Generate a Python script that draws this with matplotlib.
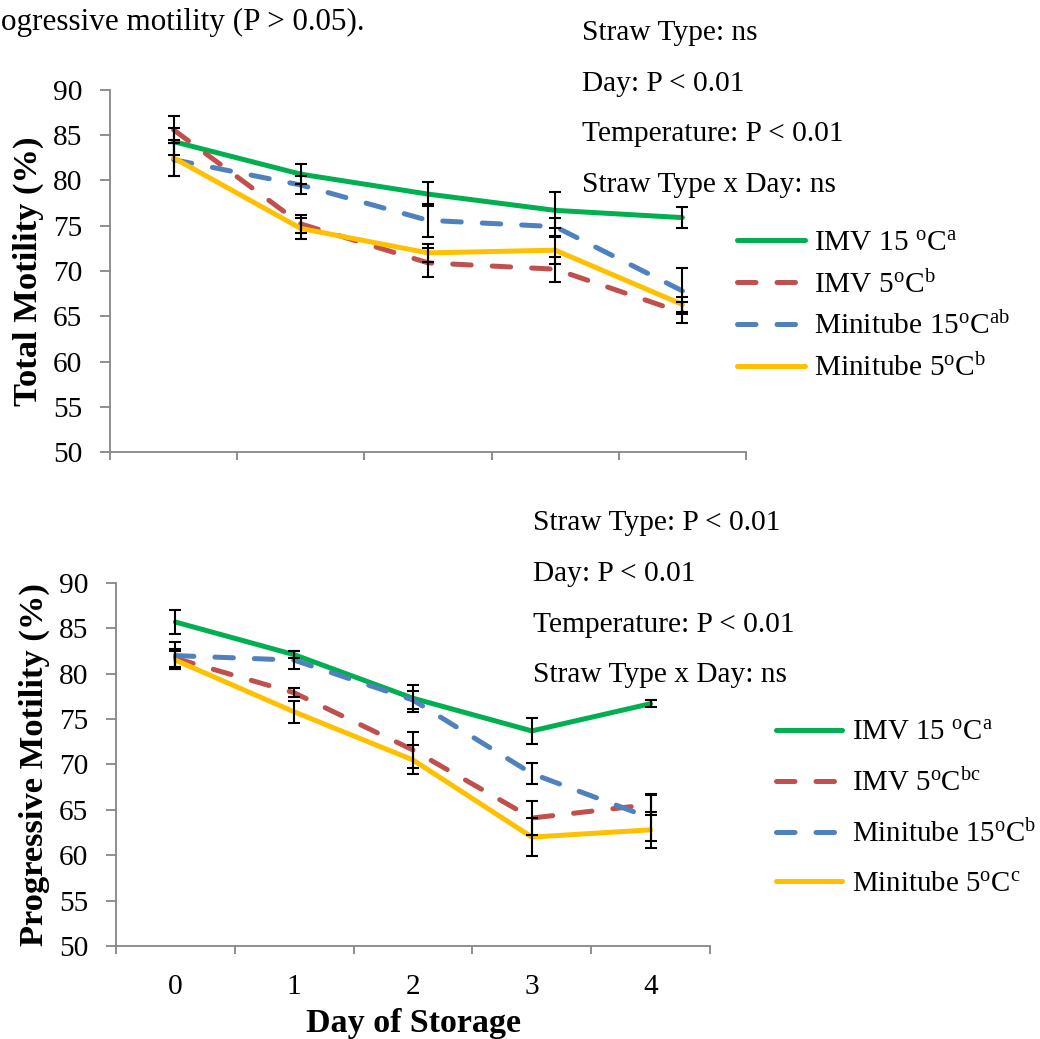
import numpy as np
import matplotlib
matplotlib.use("Agg")
import matplotlib.pyplot as plt

plt.rcParams['font.family'] = ['Liberation Serif', 'DejaVu Serif']
plt.rcParams['mathtext.fontset'] = 'custom'
plt.rcParams['mathtext.rm'] = 'Liberation Serif'
plt.rcParams['mathtext.it'] = 'Liberation Serif'

days = [0, 1, 2, 3, 4]

# Total motility (%)
tot_imv15 = [84.3, 80.7, 78.5, 76.7, 75.9]
tot_imv5 = [85.6, 75.2, 70.9, 70.2, 65.4]
tot_mini15 = [82.3, 79.5, 75.6, 74.9, 67.8]
tot_mini5 = [82.5, 74.7, 72.0, 72.3, 66.3]
tot_imv15_err = [1.5, 1.1, 1.3, 2.0, 1.2]
tot_imv5_err = [1.5, 1.0, 1.6, 1.4, 1.2]
tot_mini15_err = [1.8, 1.0, 1.8, 1.0, 2.5]
tot_mini5_err = [2.0, 1.2, 1.0, 1.5, 0.8]

# Progressive motility (%)
prog_imv15 = [85.7, 82.1, 77.3, 73.7, 76.7]
prog_imv5 = [81.7, 77.9, 71.6, 64.1, 65.6]
prog_mini15 = [82.0, 81.5, 77.1, 69.0, 64.1]
prog_mini5 = [81.5, 75.8, 70.5, 62.0, 62.8]
prog_imv15_err = [1.3, 0.4, 1.5, 1.4, 0.4]
prog_imv5_err = [1.0, 0.5, 2.0, 1.9, 1.2]
prog_mini15_err = [1.5, 1.0, 1.0, 1.2, 2.5]
prog_mini5_err = [1.0, 1.2, 1.6, 2.1, 2.0]

top_labels = ["IMV 15 $^{\\mathrm{o}}$C$^{\\mathrm{a}}$", "IMV 5$^{\\mathrm{o}}$C$^{\\mathrm{b}}$",
              "Minitube 15$^{\\mathrm{o}}$C$^{\\mathrm{ab}}$", "Minitube 5$^{\\mathrm{o}}$C$^{\\mathrm{b}}$"]
bot_labels = ["IMV 15 $^{\\mathrm{o}}$C$^{\\mathrm{a}}$", "IMV 5$^{\\mathrm{o}}$C$^{\\mathrm{bc}}$",
              "Minitube 15$^{\\mathrm{o}}$C$^{\\mathrm{b}}$", "Minitube 5$^{\\mathrm{o}}$C$^{\\mathrm{c}}$"]

top_stats = ["Straw Type: ns", "Day: P < 0.01", "Temperature: P < 0.01", "Straw Type x Day: ns"]
bot_stats = ["Straw Type: P < 0.01", "Day: P < 0.01", "Temperature: P < 0.01", "Straw Type x Day: ns"]

colors = ['#00B050', '#C0504D', '#4F81BD', '#FFC000']
styles = ['solid', (0, (3.7, 4.2)), (0, (3.7, 4.2)), 'solid']
W, H = 1040, 1039
fs = 21.2
fs_lab = 24.8

fig = plt.figure(figsize=(W / 100, H / 100), dpi=100)


def px_axes(l, t, r, b):
    return fig.add_axes([l / W, 1 - b / H, (r - l) / W, (b - t) / H])


def draw_panel(ax, series, errs, labels, ylabel, leg_xy, spacing, leg_fs, show_x):
    handles = []
    for y, e in zip(series, errs):
        ax.errorbar(days, y, yerr=e, fmt='none', ecolor='black', elinewidth=1.5,
                    capsize=4.5, capthick=1.5, zorder=3)
    for y, c, ls, lab in zip(series, colors, styles, labels):
        h, = ax.plot(days, y, color=c, lw=3.6, linestyle=ls, label=lab,
                     dash_capstyle='round', solid_capstyle='round', zorder=2)
        handles.append(h)
    ax.set_xlim(-0.5, 4.5)
    ax.set_ylim(50, 90)
    ax.set_yticks(np.arange(50, 91, 5))
    ax.set_xticks(np.arange(-0.5, 4.6, 1))
    ax.set_xticklabels([])
    if show_x:
        ax.set_xticks(days, minor=True)
        ax.set_xticklabels([str(d) for d in days], minor=True)
        ax.tick_params(axis='x', which='minor', length=0, pad=20, labelsize=fs)
        ax.set_xlabel("Day of Storage", fontsize=24.5, fontweight='bold', labelpad=6)
    for s in ['top', 'right']:
        ax.spines[s].set_visible(False)
    for s in ['left', 'bottom']:
        ax.spines[s].set_color('#868686')
        ax.spines[s].set_linewidth(1.3)
    ax.tick_params(axis='y', which='major', direction='out', length=7, width=1.3,
                   color='#868686', labelsize=fs, pad=13)
    ax.tick_params(axis='x', which='major', direction='out', length=5.8, width=1.3,
                   color='#868686')
    ax.set_ylabel(ylabel, fontsize=fs_lab, fontweight='bold', labelpad=6.5)
    ax.legend(handles=handles, loc='upper left', bbox_to_anchor=leg_xy,
              bbox_transform=fig.transFigure, frameon=False, fontsize=leg_fs,
              handlelength=2.3, handletextpad=0.32, labelspacing=spacing,
              borderpad=0, borderaxespad=0)


ax1 = px_axes(110, 90, 746, 452)
draw_panel(ax1, [tot_imv15, tot_imv5, tot_mini15, tot_mini5],
           [tot_imv15_err, tot_imv5_err, tot_mini15_err, tot_mini5_err],
           top_labels, "Total Motility (%)", (737 / W, 1 - 230 / H), 0.48, fs, False)

ax2 = px_axes(116, 583, 710, 946)
draw_panel(ax2, [prog_imv15, prog_imv5, prog_mini15, prog_mini5],
           [prog_imv15_err, prog_imv5_err, prog_mini15_err, prog_mini5_err],
           bot_labels, "Progressive Motility (%)", (776 / W, 1 - 720 / H), 0.8, 20.8, True)

top_base = [40, 91, 141, 192]
bot_base = [530, 581, 632, 682]
for t, yb in zip(top_stats, top_base):
    fig.text(582 / W, 1 - yb / H, t, fontsize=fs, va='baseline', ha='left')
for t, yb in zip(bot_stats, bot_base):
    fig.text(533 / W, 1 - yb / H, t, fontsize=fs, va='baseline', ha='left')

# caption fragment visible at the top edge of the source figure
fig.text(1 / W, 1 - 30 / H, "ogressive motility (P > 0.05).", fontsize=22.4,
         va='baseline', ha='left')

fig.savefig("out.png", dpi=100)
